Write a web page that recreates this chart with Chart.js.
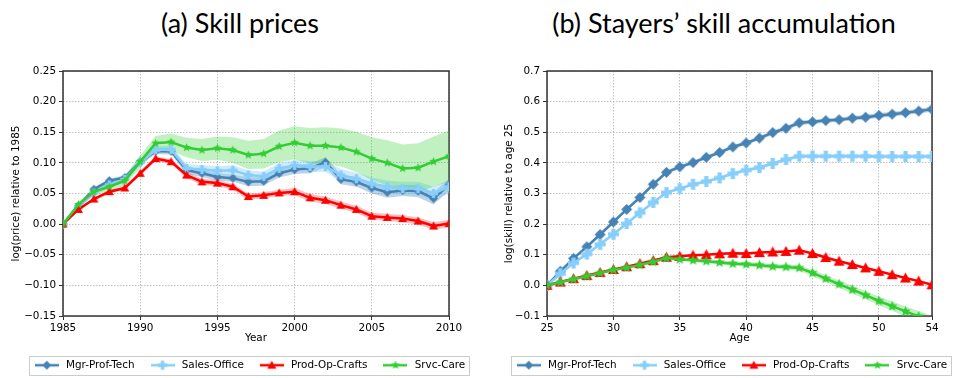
<!DOCTYPE html>
<html>
<head>
<meta charset="utf-8">
<script src="https://cdn.jsdelivr.net/npm/chart.js@4.4.0/dist/chart.umd.min.js"></script>
<style>
  body { margin: 0; background: #fff; }
  #wrap { position: relative; width: 954px; height: 378px; overflow: hidden; }
  .ttl { position: absolute; top: 9px; font-family: Lato, sans-serif; font-size: 27px; line-height: 1; color: #000; transform: translateX(-50%); white-space: nowrap; }
  canvas { position: absolute; top: 0; }
</style>
</head>
<body>
<div id="wrap">
  <div class="ttl" style="left:240px">(a) Skill prices</div>
  <div class="ttl" style="left:724px">(b) Stayers’ skill accumulation</div>
  <canvas id="prices" width="477" height="378" style="left:0"></canvas>
  <canvas id="skills" width="477" height="378" style="left:477px"></canvas>
</div>
<script>
// series names, colours and markers
const groups = ['Mgr-Prof-Tech', 'Sales-Office', 'Prod-Op-Crafts', 'Srvc-Care'];
const colors = ['#4682b4', '#87cefa', '#ff0000', '#32cd32'];
const bandColors = ['rgba(70,130,180,0.35)', 'rgba(135,206,250,0.4)', 'rgba(255,0,0,0.25)', 'rgba(50,205,50,0.3)'];
const markers = ['diamond', 'plus', 'triangle', 'star'];

// (a) skill prices
const years = [1985, 1986, 1987, 1988, 1989, 1990, 1991, 1992, 1993, 1994, 1995, 1996, 1997,
               1998, 1999, 2000, 2001, 2002, 2003, 2004, 2005, 2006, 2007, 2008, 2009, 2010];
const yearTicks = [1985, 1990, 1995, 2000, 2005, 2010];
const priceTicks = [-0.15, -0.10, -0.05, 0, 0.05, 0.10, 0.15, 0.20, 0.25];

const mgrPrice   = [0, 0.030, 0.057, 0.071, 0.076, 0.102, 0.119, 0.119, 0.088, 0.083, 0.077, 0.075, 0.069,
                    0.070, 0.083, 0.089, 0.091, 0.101, 0.073, 0.069, 0.059, 0.052, 0.055, 0.054, 0.042, 0.064];
const salesPrice = [0, 0.028, 0.051, 0.064, 0.073, 0.101, 0.121, 0.122, 0.091, 0.089, 0.087, 0.088, 0.080,
                    0.078, 0.091, 0.096, 0.094, 0.094, 0.080, 0.074, 0.066, 0.061, 0.058, 0.058, 0.050, 0.061];
const prodPrice  = [0, 0.024, 0.041, 0.053, 0.059, 0.083, 0.107, 0.102, 0.080, 0.069, 0.067, 0.061, 0.045,
                    0.047, 0.051, 0.053, 0.043, 0.039, 0.031, 0.024, 0.013, 0.011, 0.009, 0.005, -0.003, 0.001];
const srvcPrice  = [0, 0.032, 0.053, 0.061, 0.071, 0.102, 0.132, 0.134, 0.125, 0.121, 0.124, 0.121, 0.113,
                    0.115, 0.127, 0.133, 0.128, 0.128, 0.125, 0.118, 0.107, 0.100, 0.091, 0.092, 0.102, 0.111];
// half widths of the shaded bands
const mgrPriceBand   = [0, 0.002, 0.003, 0.003, 0.004, 0.004, 0.005, 0.005, 0.006, 0.006, 0.006, 0.006, 0.007,
                        0.007, 0.007, 0.007, 0.008, 0.008, 0.008, 0.008, 0.009, 0.009, 0.009, 0.010, 0.010, 0.010];
const salesPriceBand = [0, 0.003, 0.004, 0.004, 0.005, 0.005, 0.006, 0.006, 0.007, 0.007, 0.008, 0.008, 0.008,
                        0.008, 0.009, 0.009, 0.009, 0.009, 0.010, 0.010, 0.010, 0.010, 0.011, 0.011, 0.011, 0.011];
const prodPriceBand  = [0, 0.002, 0.003, 0.003, 0.003, 0.004, 0.004, 0.004, 0.005, 0.005, 0.005, 0.005, 0.005,
                        0.005, 0.005, 0.006, 0.006, 0.006, 0.006, 0.006, 0.006, 0.006, 0.006, 0.006, 0.006, 0.006];
const srvcPriceBand  = [0, 0.004, 0.006, 0.007, 0.008, 0.010, 0.012, 0.014, 0.016, 0.018, 0.019, 0.021, 0.023,
                        0.024, 0.026, 0.027, 0.029, 0.030, 0.031, 0.033, 0.035, 0.037, 0.039, 0.040, 0.041, 0.042];

// (b) stayers' skill accumulation
const ages = [25, 26, 27, 28, 29, 30, 31, 32, 33, 34, 35, 36, 37, 38, 39,
              40, 41, 42, 43, 44, 45, 46, 47, 48, 49, 50, 51, 52, 53, 54];
const ageTicks = [25, 30, 35, 40, 45, 50, 54];
const skillTicks = [-0.1, 0, 0.1, 0.2, 0.3, 0.4, 0.5, 0.6, 0.7];

const mgrSkill   = [0, 0.046, 0.088, 0.126, 0.166, 0.207, 0.248, 0.287, 0.330, 0.369, 0.387, 0.401, 0.418, 0.434, 0.452,
                    0.465, 0.481, 0.499, 0.513, 0.531, 0.534, 0.538, 0.541, 0.546, 0.549, 0.555, 0.559, 0.564, 0.569, 0.575];
const salesSkill = [0, 0.038, 0.073, 0.102, 0.134, 0.167, 0.202, 0.237, 0.271, 0.303, 0.316, 0.330, 0.339, 0.351, 0.365,
                    0.376, 0.385, 0.398, 0.411, 0.422, 0.422, 0.422, 0.422, 0.422, 0.422, 0.421, 0.421, 0.421, 0.421, 0.421];
const prodSkill  = [0, 0.011, 0.022, 0.032, 0.042, 0.052, 0.061, 0.071, 0.081, 0.092, 0.095, 0.098, 0.100, 0.103, 0.105,
                    0.104, 0.107, 0.109, 0.111, 0.115, 0.104, 0.091, 0.079, 0.068, 0.057, 0.046, 0.035, 0.024, 0.014, 0.002];
const srvcSkill  = [0, 0.010, 0.020, 0.030, 0.040, 0.050, 0.058, 0.067, 0.077, 0.089, 0.085, 0.082, 0.079, 0.075, 0.071,
                    0.069, 0.066, 0.062, 0.060, 0.057, 0.041, 0.022, 0.004, -0.014, -0.032, -0.051, -0.068, -0.085, -0.101, -0.118];
const mgrSkillBand   = [0, 0.003, 0.004, 0.004, 0.005, 0.005, 0.005, 0.005, 0.006, 0.006, 0.006, 0.006, 0.006, 0.006, 0.006,
                        0.006, 0.007, 0.007, 0.007, 0.007, 0.007, 0.007, 0.007, 0.007, 0.008, 0.008, 0.008, 0.008, 0.008, 0.008];
const salesSkillBand = [0, 0.003, 0.004, 0.004, 0.004, 0.005, 0.005, 0.005, 0.005, 0.005, 0.005, 0.005, 0.005, 0.005, 0.006,
                        0.006, 0.006, 0.006, 0.006, 0.006, 0.006, 0.006, 0.006, 0.006, 0.006, 0.006, 0.006, 0.006, 0.006, 0.006];
const prodSkillBand  = [0, 0.002, 0.002, 0.002, 0.003, 0.003, 0.003, 0.003, 0.003, 0.003, 0.003, 0.003, 0.003, 0.003, 0.003,
                        0.003, 0.003, 0.003, 0.003, 0.003, 0.003, 0.003, 0.003, 0.003, 0.003, 0.003, 0.003, 0.003, 0.003, 0.003];
const srvcSkillBand  = [0, 0.003, 0.003, 0.004, 0.004, 0.004, 0.005, 0.005, 0.005, 0.006, 0.006, 0.006, 0.007, 0.007, 0.007,
                        0.007, 0.008, 0.008, 0.008, 0.009, 0.010, 0.011, 0.012, 0.013, 0.013, 0.014, 0.015, 0.016, 0.017, 0.018];

const tickFont = { family: 'DejaVu Sans', size: 10.4 };

function drawMarker(ctx, kind, cx, cy, s, color) {
    ctx.fillStyle = color;
    ctx.beginPath();
    if (kind === 'diamond') {
        ctx.moveTo(cx, cy - s);
        ctx.lineTo(cx + s, cy);
        ctx.lineTo(cx, cy + s);
        ctx.lineTo(cx - s, cy);
    } else if (kind === 'plus') {
        const t = s * 0.38;
        ctx.rect(cx - s, cy - t, 2 * s, 2 * t);
        ctx.rect(cx - t, cy - s, 2 * t, 2 * s);
    } else if (kind === 'triangle') {
        ctx.moveTo(cx, cy - s);
        ctx.lineTo(cx + s, cy + s * 0.8);
        ctx.lineTo(cx - s, cy + s * 0.8);
    } else {
        for (let i = 0; i < 10; i++) {
            const r = i % 2 ? s * 0.45 : s;
            const a = -Math.PI / 2 + i * Math.PI / 5;
            ctx.lineTo(cx + r * Math.cos(a), cy + r * Math.sin(a));
        }
    }
    ctx.closePath();
    ctx.fill();
}

function markerImage(kind, s, color) {
    const c = document.createElement('canvas');
    const n = Math.ceil(2 * s + 2);
    c.width = n;
    c.height = n;
    drawMarker(c.getContext('2d'), kind, n / 2, n / 2, s, color);
    return c;
}

function legendImage(kind, color) {
    const c = document.createElement('canvas');
    c.width = 24;
    c.height = 12;
    const ctx = c.getContext('2d');
    ctx.strokeStyle = color;
    ctx.lineWidth = 2.5;
    ctx.beginPath();
    ctx.moveTo(0, 6);
    ctx.lineTo(24, 6);
    ctx.stroke();
    drawMarker(ctx, kind, 12, 6, 4.5, color);
    return c;
}
const legendImages = groups.map((g, i) => legendImage(markers[i], colors[i]));

function fmt(v, d) {
    return (v < 0 ? '\u2212' : '') + Math.abs(v).toFixed(d);
}

function buildDatasets(xs, series, bands, size) {
    const sets = [];
    series.forEach(function(vals, i) {
        sets.push({
            label: '_lo', data: xs.map((x, k) => ({ x: x, y: vals[k] - bands[i][k] })),
            borderWidth: 0, pointRadius: 0, fill: false, order: 13 - i
        });
        sets.push({
            label: '_hi', data: xs.map((x, k) => ({ x: x, y: vals[k] + bands[i][k] })),
            borderWidth: 0, pointRadius: 0, fill: '-1', backgroundColor: bandColors[i], order: 13 - i
        });
    });
    series.forEach(function(vals, i) {
        sets.push({
            label: groups[i], data: xs.map((x, k) => ({ x: x, y: vals[k] })),
            borderColor: colors[i], borderWidth: 2.5, fill: false, tension: 0,
            pointStyle: markerImage(markers[i], size, colors[i]), pointRadius: size,
            order: 4 - i
        });
    });
    return sets;
}

// frame around the plot, legend offset and legend box
function framePlugin(shift) {
    return {
        id: 'frame',
        afterLayout(chart) {
            chart.legend.left += shift;
            chart.legend.right += shift;
        },
        beforeDatasetsDraw(chart) {
            const a = chart.chartArea;
            const ctx = chart.ctx;
            ctx.save();
            ctx.strokeStyle = '#333';
            ctx.lineWidth = 1.5;
            ctx.strokeRect(a.left, a.top, a.right - a.left, a.bottom - a.top);
            ctx.restore();
        },
        afterDraw(chart) {
            const lg = chart.legend;
            const pad = lg.options.labels.padding;
            const w = lg.lineWidths[0];
            const x0 = (lg.left + pad + lg.right - w) / 2;
            const x1 = x0 + w - pad;
            const cy = lg.top + pad + 5;
            const ctx = chart.ctx;
            ctx.save();
            ctx.strokeStyle = '#cccccc';
            ctx.lineWidth = 1;
            ctx.strokeRect(Math.round(x0 - 4) + 0.5, Math.round(cy - 9.5) + 0.5, Math.round(x1 - x0 + 8), 19);
            ctx.restore();
        }
    };
}

function makeChart(id, opts) {
    return new Chart(document.getElementById(id), {
        type: 'line',
        data: { datasets: buildDatasets(opts.xs, opts.series, opts.bands, opts.size) },
        options: {
            responsive: false,
            animation: false,
            layout: { padding: { top: 71, bottom: 2, left: 0, right: 0 } },
            scales: {
                x: {
                    type: 'linear', min: opts.xs[0], max: opts.xs[opts.xs.length - 1],
                    afterBuildTicks: s => { s.ticks = opts.xTicks.map(v => ({ value: v })); },
                    afterFit: s => { s.height = 30; },
                    grid: { color: '#b0b0b0', lineWidth: 0.8, tickLength: 4, tickColor: '#333', tickWidth: 1 },
                    border: { display: false, dash: [1.5, 1.5] },
                    ticks: { color: '#000', font: tickFont, padding: 2, maxRotation: 0, callback: v => String(v) },
                    title: { display: true, text: opts.xTitle, color: '#000', font: tickFont, padding: { top: 0, bottom: 1 } }
                },
                y: {
                    type: 'linear', min: opts.yTicks[0], max: opts.yTicks[opts.yTicks.length - 1],
                    afterBuildTicks: s => { s.ticks = opts.yTicks.map(v => ({ value: v })); },
                    afterFit: s => { s.width = opts.left; },
                    grid: { color: '#b0b0b0', lineWidth: 0.8, tickLength: 4, tickColor: '#333', tickWidth: 1 },
                    border: { display: false, dash: [1.5, 1.5] },
                    ticks: { color: '#000', font: tickFont, padding: 3, callback: v => fmt(v, opts.digits) },
                    title: { display: true, text: opts.yTitle, color: '#000', font: tickFont, padding: { top: opts.titleGap, bottom: 0 } }
                },
                // empty axis that only keeps the space on the right of the plot
                side: {
                    type: 'linear', position: 'right', display: true,
                    afterFit: s => { s.width = opts.right; },
                    grid: { display: false },
                    border: { display: false },
                    ticks: { display: false }
                }
            },
            plugins: {
                tooltip: { enabled: false },
                legend: {
                    position: 'bottom',
                    maxHeight: 30,
                    labels: {
                        usePointStyle: true, pointStyleWidth: 28, padding: 14,
                        font: tickFont, color: '#000',
                        generateLabels: () => groups.map((g, i) => ({
                            text: g, pointStyle: legendImages[i], fillStyle: colors[i],
                            strokeStyle: colors[i], lineWidth: 0, hidden: false, datasetIndex: 8 + i
                        }))
                    }
                }
            }
        },
        plugins: [framePlugin(opts.shift)]
    });
}

makeChart('prices', {
    xs: years, xTicks: yearTicks, yTicks: priceTicks, digits: 2,
    series: [mgrPrice, salesPrice, prodPrice, srvcPrice],
    bands: [mgrPriceBand, salesPriceBand, prodPriceBand, srvcPriceBand],
    size: 4.5, xTitle: 'Year', yTitle: 'log(price) relative to 1985',
    left: 63, right: 28, titleGap: 10, shift: 10.5
});

makeChart('skills', {
    xs: ages, xTicks: ageTicks, yTicks: skillTicks, digits: 1,
    series: [mgrSkill, salesSkill, prodSkill, srvcSkill],
    bands: [mgrSkillBand, salesSkillBand, prodSkillBand, srvcSkillBand],
    size: 5.5, xTitle: 'Age', yTitle: 'log(skill) relative to age 25',
    left: 70, right: 22, titleGap: 26, shift: 15.5
});
</script>
</body>
</html>
